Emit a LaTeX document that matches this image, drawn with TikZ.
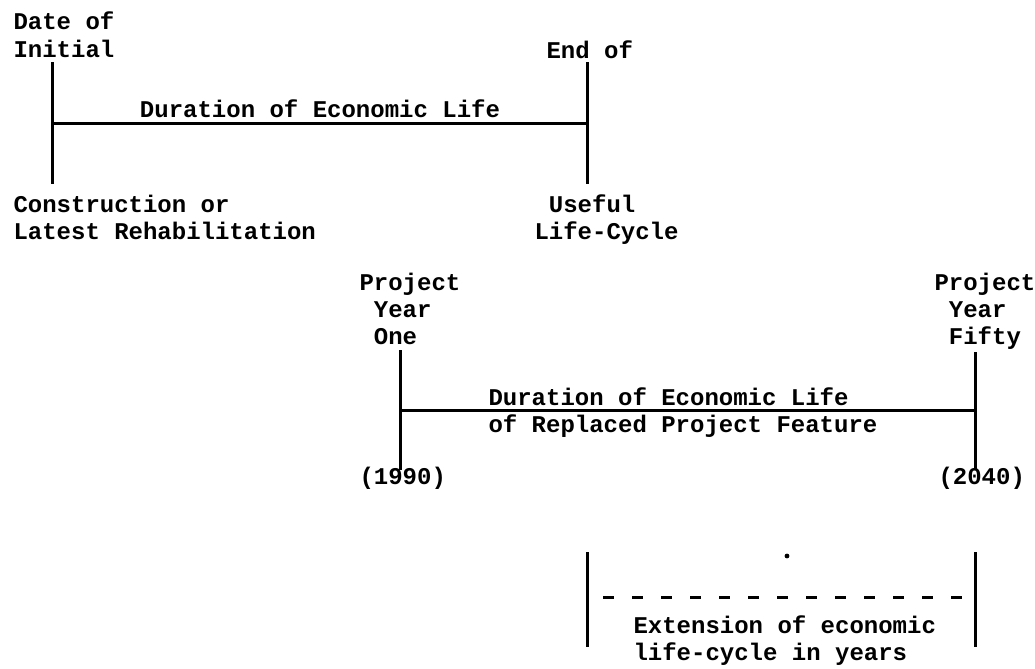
\documentclass[tikz,border=0pt]{standalone}
\usepackage{fontspec}
\setmonofont{Liberation Mono}
\begin{document}
\begin{tikzpicture}[x=0.5pt, y=-0.5pt, line width=1.5pt,
  lbl/.style={font=\ttfamily\bfseries\fontsize{12}{13.5}\selectfont, inner sep=0pt, align=left, anchor=base west}]
\useasboundingbox (0,0) rectangle (1035,669);

% economic life
\coordinate (ia) at (52,62);  \coordinate (ib) at (52,184);  \coordinate (ic) at (52,123);
\coordinate (ea) at (587,62); \coordinate (eb) at (587,184); \coordinate (ec) at (587,123);
\draw (ia)--(ib);
\draw (ea)--(eb);
\draw (ic)--(ec);
\node[lbl] (initial) at (12,57) {Date of\\Initial};
\node[lbl] (endof) at (545,58) {End of};
\node[lbl, anchor=base] (life) at (320,117) {Duration of Economic Life};
\node[lbl] (constr) at (12,239) {Construction or\\Latest Rehabilitation};
\node[lbl] (useful) at (533,239) {\hphantom{L}Useful\\Life-Cycle};

% replaced feature
\coordinate (oa) at (400,350); \coordinate (ob) at (400,470); \coordinate (oc) at (400,410);
\coordinate (fa) at (975,352); \coordinate (fb) at (975,470); \coordinate (fc) at (975,410);
\draw (oa)--(ob);
\draw (fa)--(fb);
\draw (oc)--(fc);
\node[lbl] (one) at (358,344) {Project\\\hphantom{P}Year\\\hphantom{P}One};
\node[lbl] (fifty) at (933,344) {Project\\\hphantom{P}Year\\\hphantom{P}Fifty};
\node[lbl] (replaced) at (487,432) {Duration of Economic Life\\of Replaced Project Feature};
\node[lbl] (y1990) at (358,484) {(1990)};
\node[lbl] (y2040) at (937,484) {(2040)};

% extension
\coordinate (xa) at (587,552); \coordinate (xb) at (587,647);
\coordinate (ya) at (975,552); \coordinate (yb) at (975,647);
\coordinate (da) at (603,597); \coordinate (db) at (963,597);
\draw (xa)--(xb);
\draw (ya)--(yb);
\draw[dash pattern=on 5.5pt off 9pt] (da)--(db);
\node[lbl] (ext) at (632,660) {Extension of economic\\life-cycle in years};
\fill (787,556) circle (1.2pt);

\end{tikzpicture}
\end{document}
